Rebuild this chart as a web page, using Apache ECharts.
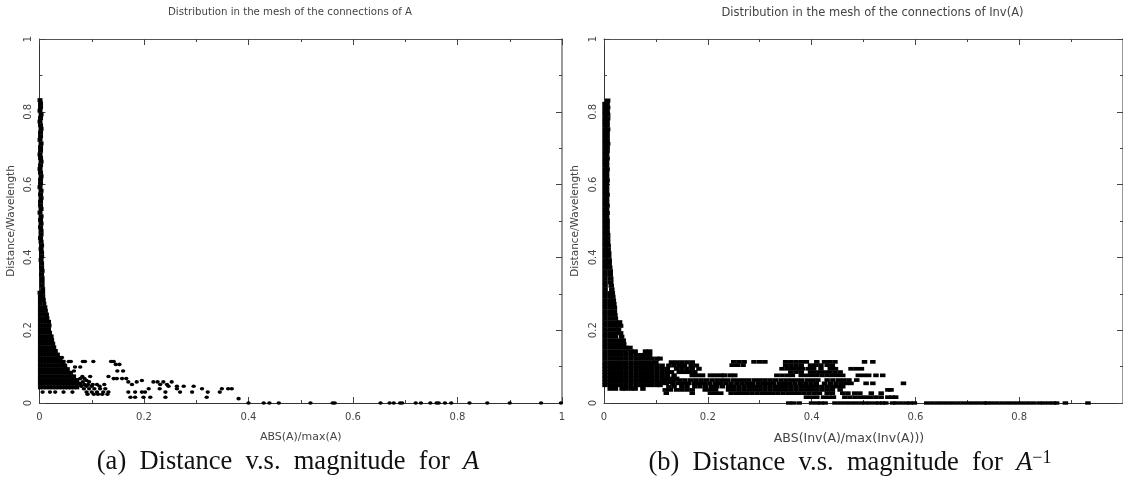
<!DOCTYPE html>
<html><head><meta charset="utf-8">
<style>html,body{margin:0;padding:0;background:#fff}#c{width:1123px;height:482px}</style>
<script src="https://cdn.jsdelivr.net/npm/echarts@6/dist/echarts.min.js"></script>
</head><body><div id="c"></div>
<script>
// rows are [distance, magnitude, magnitude, ...]
const aStem=[[.832,.001],[.823,.002],[.813,.002],[.803,.001],[.793,.003],[.783,.002],[.773,.001],[.763,.002],[.753,.003],[.743,.002],[.733,.002],[.723,.001],[.713,.003],[.703,.002],[.693,.002],[.683,.001],[.673,.002],[.663,.003],[.653,.002],[.643,.001],[.633,.002],[.623,.003],[.613,.002],[.603,.002],[.593,.001],[.583,.003],[.573,.002],[.563,.003],[.553,.002],[.543,.002],[.533,.003],[.523,.001],[.513,.003],[.503,.002],[.493,.003],[.483,.002],[.473,.003],[.463,.003],[.453,.002],[.443,.003],[.433,.004],[.423,.003],[.413,.004],[.403,.004],[.393,.003],[.383,.004],[.373,.004],[.363,.005],[.353,.004],[.343,.005],[.333,.005],[.323,.005],[.313,.006],[.303,.001,.006]];
const aMass=[[.293,.001,.007],[.283,.001,.008],[.273,.001,.009],[.263,.001,.007,.011],[.253,.001,.007,.012],[.243,.001,.007,.014],[.233,.001,.007,.013,.015],[.223,.001,.007,.013,.018],[.213,.001,.007,.013,.019],[.203,.001,.007,.013,.018],[.193,.001,.007,.013,.02],[.183,.001,.007,.013,.019,.023],[.173,.001,.007,.013,.019,.024],[.163,.001,.007,.013,.019,.026],[.153,.001,.007,.013,.019,.025,.028],[.143,.001,.007,.013,.019,.025,.031],[.133,.001,.007,.013,.019,.025,.031,.035],[.123,.001,.007,.013,.019,.025,.031,.037,.04],[.113,.001,.007,.013,.019,.025,.031,.037,.043,.046],[.103,.001,.007,.013,.019,.025,.031,.037,.043,.049],[.093,.001,.007,.013,.019,.025,.031,.037,.043,.049,.054],[.083,.001,.007,.013,.019,.025,.031,.037,.043,.049,.055,.06],[.073,.001,.007,.013,.019,.025,.031,.037,.043,.049,.055,.061,.066],[.063,.001,.007,.013,.019,.025,.031,.037,.043,.049,.055,.061,.067,.072],[.053,.001,.007,.013,.019,.025,.031,.037,.043,.049,.055,.061,.067,.073,.078],[.043,.001,.007,.013,.019,.025,.031,.037,.043,.049,.055,.06,.066,.072]];
const aSparse=[[.125,.038,.043],[.114,.056,.06,.083,.087,.103,.137,.142],[.106,.146,.153],[.099,.049,.068,.078],[.088,.052,.066,.149,.16],[.073,.082,.097,.132],[.067,.142,.148,.158,.166,.078,.086],[.062,.196,.09],[.058,.17,.186,.218,.226,.237,.253,.083,.095],[.051,.177,.231,.244,.124,.086,.093,.102,.11],[.046,.247,.263,.276,.295,.08,.09,.1,.115],[.039,.209,.23,.263,.311,.349,.361,.368,.085,.095,.105,.116,.126],[.03,.006,.02,.03,.046,.063,.09,.1,.11,.122,.132,.17,.183,.196,.202,.241,.269,.292,.322,.345],[.024,.092,.104,.112,.12,.13],[.016,.174,.183,.199,.212,.241,.32],[.012,.381],[0,.4,.429,.44,.458,.5186,.561,.565,.6527,.67,.678,.69,.694,.72,.73,.748,.76,.764,.776,.788,.823,.857,.9,.96,.998]];

const bStem=[[.831,.007],[.822,.002,.006],[.812,.002,.007],[.802,.002,.006],[.792,.002,.007],[.782,.002,.007],[.772,.002,.006],[.762,.002,.006],[.752,.002,.007],[.742,.002,.006],[.732,.002,.006],[.722,.002,.006],[.712,.002,.007],[.702,.002,.006],[.692,.002,.006],[.682,.002,.005],[.672,.002,.006],[.662,.002,.005],[.652,.002,.005],[.642,.002,.006],[.632,.002,.005],[.622,.002,.005],[.612,.002,.006],[.602,.002,.005],[.592,.002,.005],[.582,.002,.005],[.572,.002,.006],[.562,.002,.005],[.552,.002,.005],[.542,.002,.006],[.532,.002,.005],[.522,.002,.006],[.512,.002,.005],[.502,.002,.006],[.492,.002,.006],[.482,.002,.006],[.472,.002,.006],[.462,.002,.007],[.452,.002,.007],[.442,.002,.007],[.432,.002,.008],[.422,.002,.008],[.412,.002,.009],[.402,.002,.009],[.392,.002,.01],[.382,.002,.01],[.372,.002,.011],[.362,.002,.012],[.352,.002,.012],[.342,.002,.013],[.332,.002,.013],[.322,.002,.014],[.312,.002,.015],[.302,.002,.012,.016],[.292,.002,.012,.017],[.282,.002,.012,.018],[.272,.002,.012,.019],[.262,.002,.012,.02],[.252,.002,.012,.02],[.242,.002,.012,.021],[.232,.002,.012,.022],[.222,.002,.012,.022,.03],[.212,.002,.012,.022,.032],[.202,.002,.012,.022,.028],[.192,.002,.012,.022,.032],[.182,.002,.012,.022,.034],[.172,.002,.012,.022,.032,.037],[.162,.002,.012,.022,.032,.038]];
const bMass=[[.152,.002,.012,.022,.032,.042,.05],[.142,.002,.012,.022,.032,.042,.052,.06,.08,.088],[.132,.002,.012,.022,.032,.042,.052,.062,.072,.078,.088],[.122,.002,.012,.022,.032,.042,.052,.062,.072,.082,.092,.102,.108],[.112,.002,.012,.022,.032,.042,.052,.062,.072,.082,.092,.1,.13,.14,.15,.16,.17],[.103,.002,.012,.022,.032,.042,.052,.062,.072,.082,.092,.102,.112,.125,.135,.145,.155,.168,.178],[.094,.002,.012,.022,.032,.042,.052,.062,.072,.082,.092,.102,.112,.122,.14,.15,.16,.17,.183],[.085,.002,.012,.022,.032,.042,.052,.062,.072,.082,.092,.102,.112,.122,.13,.145,.155,.165,.175],[.076,.002,.012,.022,.032,.042,.052,.062,.072,.082,.092,.102,.112,.122,.135,.17,.18,.19,.205,.215,.225,.232,.243,.252],[.067,.002,.012,.022,.032,.042,.052,.062,.072,.082,.092,.102,.112,.122,.132,.14],[.058,.002,.012,.022,.032,.042,.052,.062,.072,.082,.092,.102,.112,.122,.13],[.049,.002,.012,.022,.032,.042,.052,.062,.072,.082,.092,.102,.108],[.039,.012,.022,.035,.042,.052,.06,.075]];
const bBand=[[.063,.115,.125,.135,.146,.156,.167,.177,.187,.197,.208,.218,.228,.238,.249,.259,.269,.279,.29,.3,.31,.32,.33,.341,.351,.361,.371,.381,.392,.402,.412,.43,.441,.452,.462,.472,.487],[.054,.11,.12,.133,.143,.153,.163,.174,.184,.194,.204,.215,.225,.235,.245,.256,.266,.276,.286,.297,.307,.317,.327,.338,.348,.358,.368,.379,.389,.399,.409,.425,.436,.447,.457,.467,.476,.505,.518,.577],[.045,.125,.135,.15,.16,.175,.185,.196,.207,.217,.228,.24,.25,.26,.27,.28,.29,.3,.31,.32,.33,.34,.35,.36,.37,.38,.39,.4,.41,.42,.43,.44,.45,.46],[.036,.118,.128,.14,.15,.16,.17,.195,.205,.215,.24,.25,.26,.27,.28,.29,.3,.31,.32,.33,.34,.35,.36,.37,.38,.39,.4,.41,.42,.43,.44,.455,.547,.553],[.027,.12,.17,.205,.215,.225,.245,.255,.265,.275,.285,.295,.305,.315,.325,.335,.345,.355,.365,.375,.385,.395,.405,.415,.43,.44,.46,.47,.483,.493,.515,.534],[.016,.39,.4,.41,.423,.433,.442,.464,.474,.484,.494,.504,.514,.524,.534,.547,.555,.562],[.113,.35,.36,.37,.38,.39,.41,.425,.435,.445,.502,.518,.25,.26,.27,.289,.3,.31],[.104,.35,.36,.37,.38,.398,.408,.418,.43,.44,.247,.257,.268],[.094,.343,.353,.363,.373,.383,.394,.404,.418,.436,.446,.476,.486,.496],[.085,.36,.37,.38,.398,.405,.415,.425,.435,.445,.455],[.076,.333,.343,.353,.363,.38,.39,.4,.41,.42,.43,.44,.45,.46,.49,.5,.51,.524,.537]];
const bZero=[0,.356,.365,.376,.4,.41,.418,.426,.445,.455,.465,.475,.485,.495,.503,.512,.522,.53,.537,.543,.556,.562,.572,.582,.59,.598,.622,.632,.642,.652,.662,.672,.682,.692,.702,.712,.722,.732,.738,.747,.757,.767,.777,.787,.797,.807,.817,.827,.838,.847,.857,.866,.872,.889,.9325];

const panelTitles=['Distribution in the mesh of the connections of A','Distribution in the mesh of the connections of Inv(A)'];
const xNames=['ABS(A)/max(A)','ABS(Inv(A)/max(Inv(A)))'];
const yName='Distance/Wavelength';

const pts=rows=>rows.flatMap(r=>r.slice(1).map(x=>[x,r[0]]));
const TXT='#444', FONT='"DejaVu Sans"';
const tick={inside:true,length:6,lineStyle:{color:'#444'}};
const minor={show:true,splitNumber:2,length:3,lineStyle:{color:'#444'}};
const bottomX=(grid,name,showMax,size,pad)=>({type:'value',gridIndex:grid,position:'bottom',min:0,max:1,interval:.2,name,nameLocation:'middle',nameGap:29,
  nameTextStyle:{color:TXT,fontSize:size,fontFamily:FONT,padding:[0,pad,0,0]},
  axisLine:{onZero:false,lineStyle:{color:'#333',width:1}},axisTick:tick,minorTick:minor,splitLine:{show:false},minorSplitLine:{show:false},
  axisLabel:{color:TXT,fontSize:10,fontFamily:FONT,margin:9,showMaxLabel:showMax}});
const topX=(grid)=>({type:'value',gridIndex:grid,position:'top',min:0,max:1,interval:.2,
  axisLine:{onZero:false,lineStyle:{color:'#555',width:1}},axisTick:tick,minorTick:minor,splitLine:{show:false},axisLabel:{show:false}});
const leftY=(grid)=>({type:'value',gridIndex:grid,position:'left',min:0,max:1,interval:.2,name:yName,nameLocation:'middle',nameGap:23,
  nameTextStyle:{color:TXT,fontSize:10.5,fontFamily:FONT},
  axisLine:{onZero:false,lineStyle:{color:'#333',width:1}},axisTick:tick,minorTick:minor,splitLine:{show:false},
  axisLabel:{color:TXT,fontSize:10,fontFamily:FONT,rotate:90,margin:6}});
const rightY=(grid)=>({type:'value',gridIndex:grid,position:'right',min:0,max:1,interval:.2,
  axisLine:{onZero:false,lineStyle:{color:'#777',width:1.5}},axisTick:tick,minorTick:minor,splitLine:{show:false},axisLabel:{show:false}});
const dots=(g,data,symbol,size)=>({type:'scatter',xAxisIndex:g*2,yAxisIndex:g*2,data,symbol,symbolSize:size,clip:false,
  silent:true,animation:false,itemStyle:{color:'#000',opacity:1}});

const base={fontFamily:'"Liberation Serif"',fontWeight:'normal',color:'#111'};
const capRich={n:{...base,fontSize:26.5},i:{...base,fontStyle:'italic',fontSize:26.5},s:{...base,fontSize:18,padding:[0,0,11,0]}};

const chart=echarts.init(document.getElementById('c'),null,{renderer:'canvas'});
chart.setOption({
  animation:false,backgroundColor:'#fff',
  grid:[{left:39.5,top:39,width:522.5,height:364},{left:604,top:39,width:523,height:364}],
  title:[
    {text:panelTitles[0],left:290,top:7,padding:0,textAlign:'center',textStyle:{color:TXT,fontSize:10.2,fontWeight:'normal',fontFamily:FONT}},
    {text:panelTitles[1],left:872.5,top:7,padding:0,textAlign:'center',textStyle:{color:TXT,fontSize:11.5,fontWeight:'normal',fontFamily:FONT}},
    {text:'{n|(a)  Distance  v.s.  magnitude  for  }{i|A}',left:288,top:449,padding:0,textAlign:'center',textStyle:{fontWeight:'normal',rich:capRich}},
    {text:'{n|(b)  Distance  v.s.  magnitude  for  }{i|A}{s|−1}',left:850,top:449,padding:0,textAlign:'center',textStyle:{fontWeight:'normal',rich:capRich}}
  ],
  xAxis:[bottomX(0,xNames[0],true,11,0),topX(0),bottomX(1,xNames[1],false,12.5,29),topX(1)],
  yAxis:[leftY(0),rightY(0),leftY(1),rightY(1)],
  series:[
    dots(0,pts(aStem),'rect',[5,4]),
    dots(0,pts(aMass),'rect',[4.2,4]),
    dots(0,pts(aSparse),'circle',[4.4,3.6]),
    dots(1,pts(bStem),'rect',[5.5,4]),
    dots(1,pts(bMass),'rect',[5.5,4]),
    dots(1,pts(bBand),'rect',[5.5,3.7]),
    dots(1,bZero.slice(1).map(x=>[x,bZero[0]]),'rect',[5.5,3.4])
  ]
});
</script></body></html>
